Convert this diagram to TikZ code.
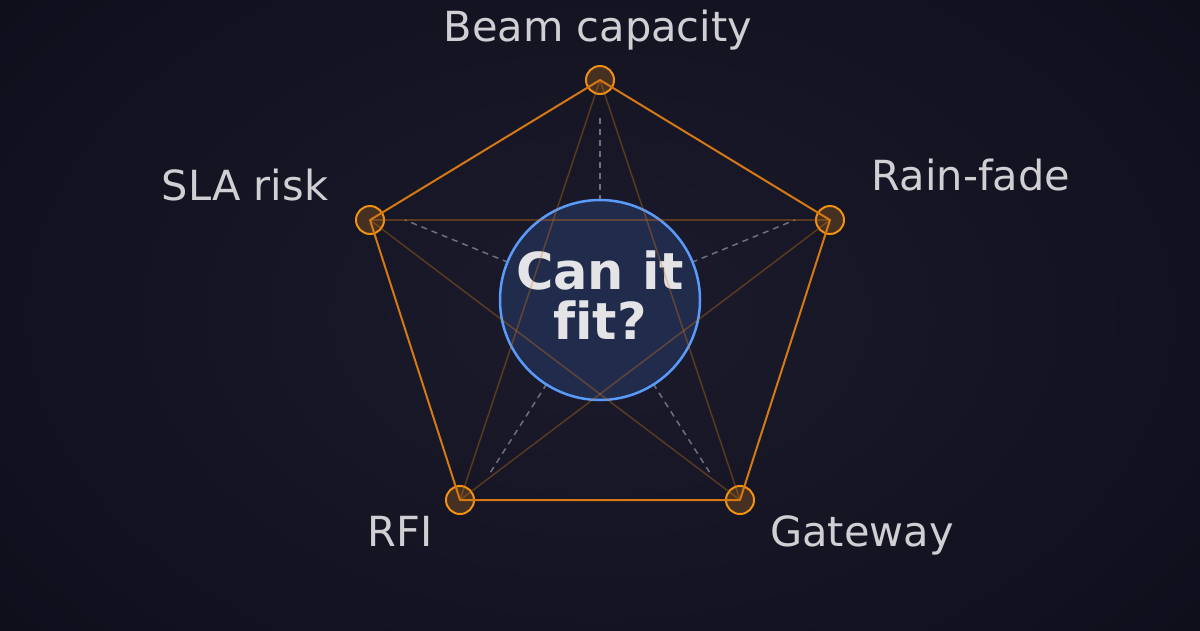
\documentclass[tikz,border=0pt]{standalone}
\usepackage{fontspec}
\setmainfont{DejaVu Sans}[Ligatures=NoCommon]
\definecolor{bgin}{RGB}{27,27,44}
\definecolor{bgout}{RGB}{13,13,26}
\definecolor{edgeor}{RGB}{214,120,20}
\definecolor{vtxor}{RGB}{240,145,20}
\definecolor{vtxfill}{RGB}{70,48,34}
\definecolor{hubblue}{RGB}{90,155,250}
\definecolor{hubfill}{RGB}{33,43,76}
\definecolor{lbl}{RGB}{208,208,212}
\definecolor{hubtxt}{RGB}{228,228,230}
\definecolor{dashgray}{RGB}{110,112,128}
\tikzset{
  vtx/.style={circle, minimum size=28pt, inner sep=0pt, fill=vtxfill, draw=vtxor, line width=2pt},
  pedge/.style={draw=edgeor, line width=2pt},
  starline/.style={draw=edgeor, line width=1.5pt, draw opacity=0.35},
  dashline/.style={draw=dashgray, line width=1.5pt, dash pattern=on 6pt off 5pt},
  hub/.style={circle, minimum size=200pt, inner sep=0pt, fill=hubfill, draw=hubblue, line width=2.5pt},
  lab/.style={text=lbl, font=\fontsize{41.5}{49}\selectfont, anchor=base, inner sep=0pt},
  hubt/.style={text=hubtxt, font=\fontsize{51}{53}\selectfont\bfseries, anchor=base, inner sep=0pt}
}
\begin{document}
\begin{tikzpicture}[x=1pt,y=-1pt]
\useasboundingbox (0,0) rectangle (1200,630);
\shade[inner color=bgin, outer color=bgout] (-250,-250) rectangle (1450,880);
\coordinate (C) at (600,300);
% dashed spokes
\coordinate (dT) at (600,115);
\coordinate (dL) at (405,220);
\coordinate (dR) at (795,220);
\coordinate (dBL) at (490,473);
\coordinate (dBR) at (710,473);
\foreach \p in {dT,dL,dR,dBL,dBR} \draw[dashline] (C) -- (\p);
% hub
\node[hub] (hub) at (C) {};
\node[hubt] (q1) at (600,289) {Can it};
\node[hubt] (q2) at (600,339) {fit?};
% vertices
\node[vtx] (T) at (600,80) {};
\node[vtx] (L) at (370,220) {};
\node[vtx] (R) at (830,220) {};
\node[vtx] (BL) at (460,500) {};
\node[vtx] (BR) at (740,500) {};
% star lines
\draw[starline] (T.center) -- (BL.center);
\draw[starline] (T.center) -- (BR.center);
\draw[starline] (L.center) -- (R.center);
\draw[starline] (L.center) -- (BR.center);
\draw[starline] (R.center) -- (BL.center);
% pentagon
\draw[pedge, line join=round] (T.center) -- (R.center) -- (BR.center) -- (BL.center) -- (L.center) -- cycle;
% labels
\node[lab] (lT) at (598,41) {Beam capacity};
\node[lab] (lL) at (245,200) {SLA risk};
\node[lab] (lR) at (971,190) {Rain-fade};
\node[lab] (lBL) at (400,546) {RFI};
\node[lab] (lBR) at (862,546) {Gateway};
\end{tikzpicture}
\end{document}
